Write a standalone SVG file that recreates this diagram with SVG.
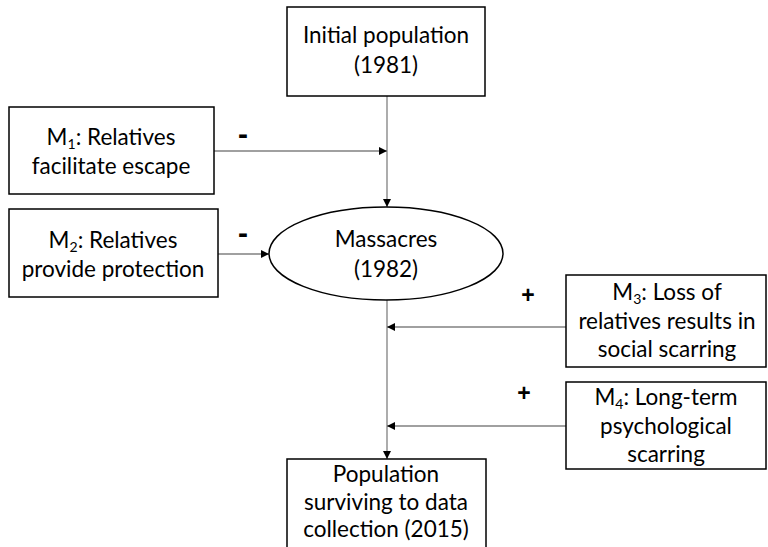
<svg xmlns="http://www.w3.org/2000/svg" width="768" height="547" viewBox="0 0 768 547">
<style>
  .box{fill:#fff;stroke:#000;stroke-width:1.5}
  .t{font-family:Lato,"Open Sans",sans-serif;font-size:22.5px;fill:#000;text-anchor:middle}
  .sub{font-size:14px}
  .c{stroke:#808080;stroke-width:1.3;fill:none}
  .sign{font-family:"Liberation Sans",Arial,sans-serif;font-weight:bold;fill:#000;text-anchor:middle}
</style>
<defs>
  <marker id="arr" viewBox="0 0 10 10" refX="10" refY="5" markerWidth="8" markerHeight="8" markerUnits="userSpaceOnUse" orient="auto">
    <path d="M0,0 L10,5 L0,10 Z" fill="#000"/>
  </marker>
</defs>
<rect width="768" height="547" fill="#fff"/>
<g id="connectors">
  <line class="c" x1="387" y1="96" x2="387" y2="207" marker-end="url(#arr)"/>
  <line class="c" x1="214" y1="151" x2="387" y2="151" marker-end="url(#arr)"/>
  <line class="c" x1="218" y1="254" x2="269" y2="254" marker-end="url(#arr)"/>
  <line class="c" x1="387" y1="300" x2="387" y2="459" marker-end="url(#arr)"/>
  <line class="c" x1="566" y1="327" x2="387" y2="327" marker-end="url(#arr)"/>
  <line class="c" x1="566" y1="426" x2="387" y2="426" marker-end="url(#arr)"/>
  <text class="sign" x="243" y="144" font-size="30">-</text>
  <text class="sign" x="243" y="243" font-size="30">-</text>
  <text class="sign" x="528" y="303" font-size="23">+</text>
  <text class="sign" x="524" y="401" font-size="23">+</text>
</g>
<g id="initial">
  <rect class="box" x="287" y="7" width="198" height="89"/>
  <text class="t" x="386" y="43">Initial population</text>
  <text class="t" x="386" y="73">(1981)</text>
</g>
<g id="m1">
  <rect class="box" x="9" y="107" width="205" height="87"/>
  <text class="t" x="111" y="145">M<tspan class="sub" dy="4">1</tspan><tspan dy="-4">: Relatives</tspan></text>
  <text class="t" x="111" y="174">facilitate escape</text>
</g>
<g id="m2">
  <rect class="box" x="9" y="209" width="209" height="88"/>
  <text class="t" x="113" y="248">M<tspan class="sub" dy="4">2</tspan><tspan dy="-4">: Relatives</tspan></text>
  <text class="t" x="113" y="277">provide protection</text>
</g>
<g id="massacres">
  <ellipse class="box" cx="386" cy="253.5" rx="117" ry="46.5"/>
  <text class="t" x="386" y="247">Massacres</text>
  <text class="t" x="386" y="277">(1982)</text>
</g>
<g id="m3">
  <rect class="box" x="566" y="275" width="200" height="92"/>
  <text class="t" x="667" y="300">M<tspan class="sub" dy="4">3</tspan><tspan dy="-4">: Loss of</tspan></text>
  <text class="t" x="667" y="329">relatives results in</text>
  <text class="t" x="667" y="357">social scarring</text>
</g>
<g id="m4">
  <rect class="box" x="566" y="382" width="200" height="87"/>
  <text class="t" x="666" y="405">M<tspan class="sub" dy="4">4</tspan><tspan dy="-4">: Long-term</tspan></text>
  <text class="t" x="666" y="434">psychological</text>
  <text class="t" x="666" y="462">scarring</text>
</g>
<g id="surviving">
  <rect class="box" x="287" y="459" width="199" height="100"/>
  <text class="t" x="386" y="482">Population</text>
  <text class="t" x="386" y="510">surviving to data</text>
  <text class="t" x="386" y="537">collection (2015)</text>
</g>
</svg>
